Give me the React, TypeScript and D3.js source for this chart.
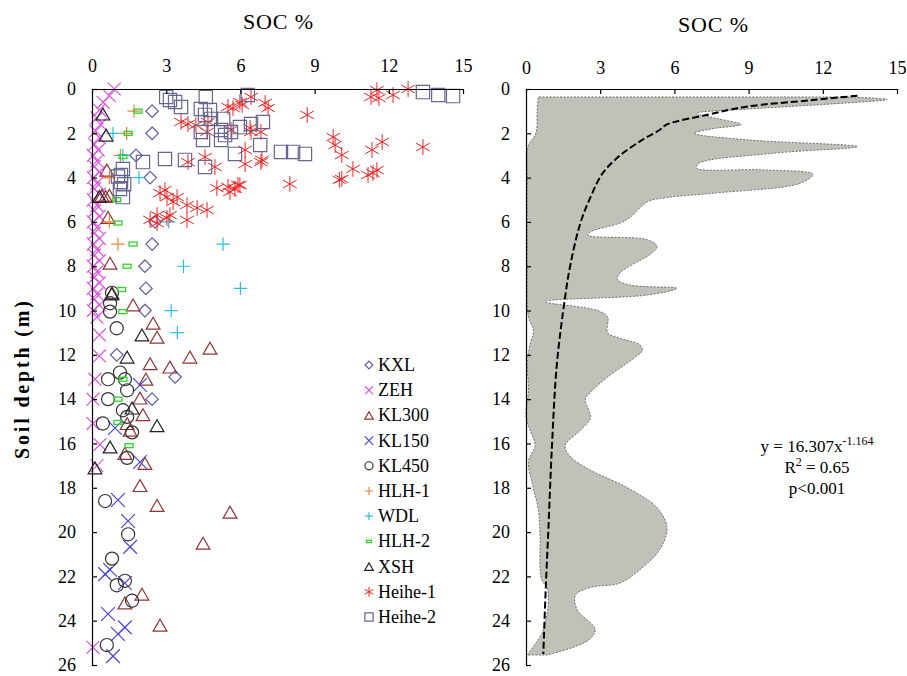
import { useRef, useEffect } from 'react'
import * as d3 from 'd3'

// [SOC %, depth m]
const KXL = [[2.43,1.0],[2.43,2.0],[1.78,3.0],[2.35,4.0],[2.55,6.0],[2.43,7.0],[2.14,8.0],[2.18,9.0],[2.14,10.0],[1.0,12.0],[3.36,13.0],[2.43,14.0]]
const ZEH = [[0.9,0.0],[0.7,0.3],[0.45,0.6],[0.3,0.95],[0.2,1.3],[0.35,1.6],[0.15,1.9],[0.3,2.2],[0.1,2.5],[0.25,2.75],[0.05,3.0],[0.2,3.25],[0.1,3.5],[0.3,3.75],[0.05,4.0],[0.2,4.25],[0.1,4.5],[0.3,4.75],[0.05,5.0],[0.2,5.25],[0.1,5.5],[0.3,5.75],[0.05,6.0],[0.2,6.25],[0.1,6.5],[0.3,6.75],[0.05,7.0],[0.2,7.25],[0.1,7.5],[0.3,7.75],[0.05,8.0],[0.2,8.25],[0.1,8.5],[0.3,8.75],[0.05,9.0],[0.2,9.25],[0.1,9.5],[0.3,9.75],[0.05,10.0],[0.2,10.3],[0.3,11.1],[0.3,12.05],[0.12,13.1],[0.04,14.0],[0.04,15.1],[0.32,16.05],[0.2,17.0],[0.04,25.2]]
const KL300 = [[0.6,3.66],[0.4,4.8],[0.55,4.85],[0.7,4.8],[0.65,5.8],[0.73,7.86],[0.81,9.2],[1.66,9.75],[2.47,10.57],[2.63,11.2],[4.77,11.7],[3.96,12.1],[3.15,12.55],[2.35,12.4],[2.18,13.1],[1.94,13.95],[2.06,14.7],[1.42,15.1],[1.54,15.4],[1.33,16.45],[2.14,16.9],[1.94,17.9],[2.63,18.8],[5.58,19.1],[4.49,20.5],[2.02,22.8],[1.33,23.2],[2.75,24.2]]
const KL150 = [[1.94,13.36],[0.93,15.3],[1.94,16.84],[1.05,18.55],[1.46,19.5],[1.54,20.67],[0.73,21.7],[0.53,21.9],[1.33,22.3],[0.65,23.7],[1.33,24.3],[1.05,24.6],[0.85,25.6]]
const KL450 = [[0.81,9.2],[0.73,9.67],[0.73,10.05],[1.0,10.8],[1.13,12.8],[0.65,13.1],[1.33,13.1],[1.42,13.6],[0.65,14.0],[1.25,14.5],[1.42,14.8],[0.44,15.1],[1.62,15.5],[1.42,16.65],[0.53,18.6],[1.46,20.1],[0.81,21.2],[1.0,22.4],[1.33,22.2],[1.62,23.1],[0.6,25.1]]
const HLH1 = [[1.7,1.0],[1.4,2.0],[1.15,3.0],[0.7,4.0],[0.7,6.0],[1.05,7.0]]
const WDL = [[0.85,2.0],[1.25,3.0],[1.9,4.0],[3.1,6.0],[5.3,7.0],[3.7,8.0],[6.0,9.0],[3.2,10.0],[3.45,11.0]]
const HLH2 = [[1.86,1.0],[1.46,2.0],[1.25,3.05],[1.0,5.0],[1.05,6.05],[1.66,7.0],[1.42,8.0],[1.2,9.05],[1.25,10.05],[1.25,13.1],[1.05,14.0],[1.05,15.05],[1.5,16.1]]
const XSH = [[0.44,1.13],[0.57,2.08],[0.3,4.85],[0.8,9.25],[2.02,11.1],[1.42,12.1],[1.62,14.4],[2.63,15.2],[0.73,16.16],[0.12,17.1]]
const HEIHE1 = [[11.28,0.36],[11.52,0.05],[11.6,0.41],[12.17,0.27],[12.78,0.0],[5.7,0.86],[5.5,0.81],[5.98,0.59],[6.43,0.36],[6.07,0.72],[7.0,0.63],[7.12,0.86],[8.7,1.17],
  [3.6,1.49],[3.88,1.58],[4.2,1.63],[4.69,1.49],[4.65,1.94],[5.62,1.85],[6.43,1.94],[6.83,1.94],[6.39,1.76],
  [4.57,3.07],[4.97,3.52],[3.88,3.3],[6.19,2.75],[6.83,3.3],[6.19,3.39],[6.87,3.2],
  [5.9,4.33],[5.78,4.51],[5.98,4.33],[5.5,4.42],[5.05,4.47],[5.58,4.65],
  [9.75,2.17],[9.83,2.53],[10.1,2.98],[10.55,3.61],[10.1,4.06],[10.0,4.1],[11.16,3.88],[11.36,3.79],[11.52,3.66],[11.73,2.39],[11.32,2.75],[13.38,2.62],[8.0,4.29],
  [2.75,4.7],[3.03,4.88],[3.28,5.1],[3.44,4.88],[3.84,5.24],[4.25,5.37],[4.65,5.46],[2.63,5.69],[3.15,5.69],[2.35,5.91],[3.03,5.82],[3.84,5.91],[2.63,6.05],[2.95,4.56]]
const HEIHE2 = [[13.38,0.14],[14.0,0.27],[14.6,0.32],[3.0,0.36],[3.15,0.5],[3.36,0.59],[3.6,0.81],[4.6,0.36],[6.3,0.27],
  [4.4,0.9],[4.77,0.95],[4.57,1.17],[4.81,1.35],[4.4,1.94],[5.3,1.35],[5.22,1.85],[5.38,2.08],[5.22,2.3],[5.62,1.94],[5.98,1.72],[6.43,1.58],[6.91,1.49],[6.8,2.53],[5.78,2.93],[7.64,2.84],[8.13,2.84],[8.61,2.93],[4.49,2.3],[2.95,3.16],[3.76,3.2],[4.57,3.52],[2.06,3.3],
  [1.25,3.61],[1.17,3.88],[1.17,4.2],[1.13,4.51],[1.25,4.88],[1.05,3.95],[1.3,4.3]]

// envelope of all profiles (right panel), [SOC, depth]
const maxProfile = [[13.0,0.36],[14.6,0.47],[12.0,0.7],[9.0,0.9],[6.9,1.1],[7.8,1.35],[8.7,1.6],[7.5,1.8],[6.8,2.0],[9.0,2.3],[13.4,2.6],[10.0,2.9],[7.0,3.35],[6.9,3.57],[9.5,3.65],[11.6,3.85],[11.1,4.25],[7.6,4.7],[5.7,4.9],[4.9,5.1],[4.2,5.8],[3.8,6.05],[2.6,6.45],[2.5,6.6],[4.9,6.8],[5.3,7.1],[5.1,7.4],[3.8,8.3],[3.7,8.6],[4.2,8.85],[6.1,9.0],[4.9,9.3],[0.77,9.6],[2.9,10.0],[3.3,10.3],[3.3,11.0],[3.8,11.25],[4.6,11.55],[4.7,11.8],[4.3,12.2],[3.3,13.0],[2.6,13.7],[2.4,14.0],[2.6,14.85],[2.2,15.4],[1.58,16.1],[1.8,16.6],[2.6,17.2],[4.1,18.0],[5.3,18.9],[5.7,19.8],[5.4,20.8],[4.6,21.7],[3.8,22.3],[2.6,22.5],[2.0,22.85],[2.06,23.5],[2.8,24.4],[2.5,24.9],[0.85,25.55]]
const minProfile = [[0.5,0.36],[0.45,1.0],[0.4,2.0],[0.08,2.6],[0.05,4.0],[0.05,6.0],[0.05,8.0],[0.05,9.5],[0.1,10.3],[0.3,10.9],[0.17,11.5],[0.05,12.4],[0.1,13.6],[0.0,14.8],[0.2,15.5],[0.37,16.1],[0.1,16.8],[0.25,17.8],[0.5,19.0],[0.57,20.2],[0.57,21.7],[0.65,22.2],[0.85,22.5],[0.9,23.3],[0.77,24.1],[0.65,24.55],[0.05,25.55]]
const fitCurve = [[13.4,0.3],[11.6,0.5],[8.9,0.8],[7.3,1.17],[5.7,1.6],[5.4,1.85],[4.7,2.3],[3.8,3.0],[3.1,3.8],[2.6,4.9],[2.2,6.05],[1.8,7.9],[1.58,9.4],[1.25,12.4],[1.05,16.1],[0.9,20],[0.8,22.5],[0.7,25.5]]

const socTicks = [0, 3, 6, 9, 12, 15]
const depthTicks = d3.range(0, 27, 2)

const series = [
  { name: 'KXL', data: KXL, sym: d3.symbolDiamond2, size: 100, color: '#5c5ca6' },
  { name: 'ZEH', data: ZEH, sym: d3.symbolTimes, size: 110, color: '#e055e0' },
  { name: 'KL300', data: KL300, sym: d3.symbolTriangle2, size: 135, color: '#903434' },
  { name: 'KL150', data: KL150, sym: d3.symbolTimes, size: 125, color: '#4646d6' },
  { name: 'KL450', data: KL450, sym: d3.symbolCircle, size: 135, color: '#333333' },
  { name: 'HLH-1', data: HLH1, sym: d3.symbolPlus, size: 60, color: '#f0823a' },
  { name: 'WDL', data: WDL, sym: d3.symbolPlus, size: 60, color: '#2cbde0' },
  { name: 'HLH-2', data: HLH2, sym: null, size: 0, color: '#2fd22f' },
  { name: 'XSH', data: XSH, sym: d3.symbolTriangle2, size: 135, color: '#222222' },
  { name: 'Heihe-1', data: HEIHE1, sym: d3.symbolAsterisk, size: 175, color: '#ee2222' },
  { name: 'Heihe-2', data: HEIHE2, sym: d3.symbolSquare2, size: 225, color: '#66668e' },
]

const FONT = '"Liberation Serif", "Times New Roman", serif'

function styleAxis(g, fontSize) {
  g.attr('font-family', FONT).attr('font-size', fontSize)
  g.select('.domain').attr('stroke', '#000').attr('stroke-width', 1.2)
  g.selectAll('.tick line').attr('stroke', '#000').attr('stroke-width', 1.2)
  g.selectAll('.tick text').attr('fill', '#000')
}

export default function App() {
  const width = 907, height = 676
  const xL = d3.scaleLinear([0, 15], [92, 463])
  const xR = d3.scaleLinear([0, 15], [526, 897])
  const y = d3.scaleLinear([0, 26], [89, 665])

  const topL = useRef(), leftL = useRef(), topR = useRef(), leftR = useRef()

  useEffect(() => {
    const t1 = d3.select(topL.current)
    t1.call(d3.axisTop(xL).tickValues(socTicks).tickSize(-5).tickSizeOuter(0).tickPadding(17))
    styleAxis(t1, 18)
    const t2 = d3.select(topR.current)
    t2.call(d3.axisTop(xR).tickValues(socTicks).tickSize(-5).tickSizeOuter(0).tickPadding(15))
    styleAxis(t2, 18)
    const l1 = d3.select(leftL.current)
    l1.call(d3.axisLeft(y).tickValues(depthTicks).tickSize(-5).tickSizeOuter(0).tickPadding(16))
    styleAxis(l1, 18)
    const l2 = d3.select(leftR.current)
    l2.call(d3.axisLeft(y).tickValues(depthTicks).tickSize(-5).tickSizeOuter(0).tickPadding(16))
    styleAxis(l2, 18)
  }, [])

  const curve = d3.curveCatmullRom.alpha(0.5)
  const lineR = d3.line().x(d => xR(d[0])).y(d => y(d[1])).curve(curve)
  const envPath = lineR(maxProfile) + 'L' + lineR(minProfile.slice().reverse()).slice(1) + 'Z'
  const fitPath = lineR(fitCurve)

  const marker = (s, cx, cy, k, scale = 1) => {
    if (!s.sym) {
      return <rect key={k} x={cx - 4 * scale} y={cy - 2 * scale} width={8 * scale} height={4 * scale}
        fill="none" stroke={s.color} strokeWidth={1.3} />
    }
    const p = d3.symbol(s.sym, s.size * scale * scale)()
    const dy = s.sym === d3.symbolTriangle2 ? 2 * scale : 0
    return <path key={k} d={p} transform={`translate(${cx},${cy + dy})`} fill="none" stroke={s.color}
      strokeWidth={s.sym === d3.symbolAsterisk ? 1 : 1.2} />
  }

  const legendX = 369, legendY0 = 365, legendStep = 25.2

  return (
    <svg width={width} height={height} style={{ position: 'absolute', left: 0, top: 0, background: '#fff' }}
      fontFamily={FONT}>
      {/* left panel */}
      <text x={278} y={29} textAnchor="middle" fontSize={22} textLength={70} lengthAdjust="spacing">SOC %</text>
      <text transform="translate(29,380) rotate(-90)" textAnchor="middle" fontSize={20} fontWeight="bold"
        textLength={158} lengthAdjust="spacing">Soil depth (m)</text>
      <g>
        {series.map((s, si) => (
          <g key={s.name}>
            {s.data.map((d, i) => marker(s, xL(d[0]), y(d[1]), `${si}-${i}`))}
          </g>
        ))}
      </g>
      <g ref={topL} transform={`translate(0,${y(0)})`} />
      <g ref={leftL} transform={`translate(${xL(0)},0)`} />

      {/* legend */}
      {series.map((s, i) => (
        <g key={'lg' + s.name}>
          {marker(s, legendX, legendY0 + i * legendStep, 'lm' + i, 0.62)}
          <text x={legendX + 9} y={legendY0 + i * legendStep + 6} fontSize={18}>{s.name}</text>
        </g>
      ))}

      {/* right panel */}
      <text x={713} y={32} textAnchor="middle" fontSize={22} textLength={70} lengthAdjust="spacing">SOC %</text>
      <path d={envPath} fill="#c1c0b9" stroke="#6f6f6f" strokeWidth={1} strokeDasharray="2,1.5" />
      <path d={fitPath} fill="none" stroke="#000" strokeWidth={2} strokeDasharray="7,3" />
      <g ref={topR} transform={`translate(0,${y(0)})`} />
      <g ref={leftR} transform={`translate(${xR(0)},0)`} />

      <g fontSize={17} textAnchor="middle">
        <text x={817} y={452}>y = 16.307x<tspan fontSize={12} dy={-7}>-1.164</tspan></text>
        <text x={817} y={473}>R<tspan fontSize={12} dy={-7}>2</tspan><tspan dy={7}> = 0.65</tspan></text>
        <text x={817} y={494}>p&lt;0.001</text>
      </g>
    </svg>
  )
}
